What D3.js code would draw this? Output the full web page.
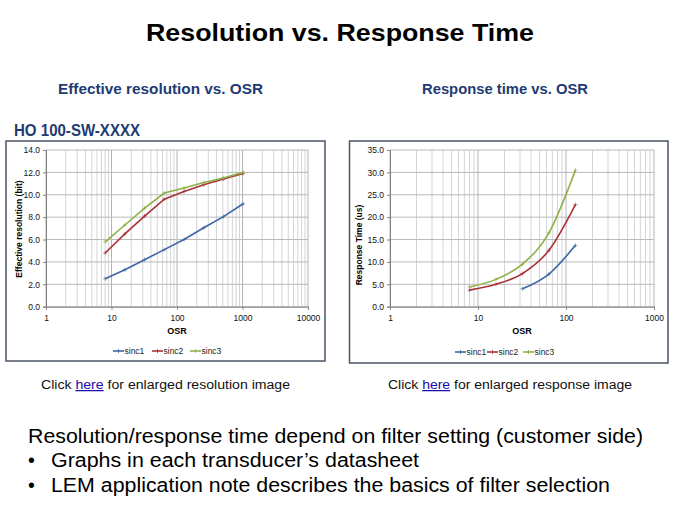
<!DOCTYPE html>
<html><head><meta charset="utf-8">
<script src="https://cdn.jsdelivr.net/npm/d3@7"></script>
<style>body{margin:0;background:#fff}svg{display:block}text{font-family:"Liberation Sans",Arial,sans-serif}</style>
</head><body><svg id="c" width="675" height="506"></svg>
<script>
// ---------- data ----------
const seriesNames = ["sinc1", "sinc2", "sinc3"];
const seriesColors = ["#3d66a6", "#a83236", "#8fb048"];
// Effective resolution vs OSR
const resOSR = [8, 16, 32, 64, 128, 256, 512, 1024];
const resSinc1 = [2.5, 3.3, 4.2, 5.1, 6.0, 7.05, 8.05, 9.2];
const resSinc2 = [4.8, 6.5, 8.1, 9.6, 10.3, 10.9, 11.4, 11.9];
const resSinc3 = [5.8, 7.3, 8.8, 10.15, 10.6, 11.1, 11.5, 12.0];
// Response time vs OSR
const rtOSR1 = [32, 64, 128];
const rtSinc1 = [4.0, 7.3, 13.7];
const rtOSR23 = [8, 16, 32, 64, 128];
const rtSinc2 = [3.7, 5.0, 7.4, 12.6, 22.8];
const rtSinc3 = [4.4, 6.1, 9.5, 16.5, 30.5];
const resYTicks = [0, 2, 4, 6, 8, 10, 12, 14];
const rtYTicks = [0, 5, 10, 15, 20, 25, 30, 35];
const resXTicks = [1, 10, 100, 1000, 10000];
const rtXTicks = [1, 10, 100, 1000];

const svg = d3.select("#c");
const navy = "#1f3b73";

function fit(sel, w) { sel.attr("textLength", w).attr("lengthAdjust", "spacingAndGlyphs"); return sel; }

// titles
fit(svg.append("text").attr("x", 146).attr("y", 41).attr("font-size", 24).attr("font-weight", "bold")
  .attr("fill", "#000").text("Resolution vs. Response Time"), 388);
fit(svg.append("text").attr("x", 58).attr("y", 94).attr("font-size", 15).attr("font-weight", "bold")
  .attr("fill", navy).text("Effective resolution vs. OSR"), 205);
fit(svg.append("text").attr("x", 422).attr("y", 94).attr("font-size", 15).attr("font-weight", "bold")
  .attr("fill", navy).text("Response time vs. OSR"), 166);
fit(svg.append("text").attr("x", 14).attr("y", 136).attr("font-size", 16).attr("font-weight", "bold")
  .attr("fill", navy).text("HO 100-SW-XXXX"), 126);

function chart(cfg) {
  const g = svg.append("g");
  g.append("rect").attr("x", cfg.box[0]).attr("y", cfg.box[1]).attr("width", cfg.box[2]).attr("height", cfg.box[3])
    .attr("fill", "#fff").attr("stroke", "#4b5366").attr("stroke-width", 1.5);
  const x = d3.scaleLog().domain(cfg.xDomain).range([cfg.plot[0], cfg.plot[1]]);
  const y = d3.scaleLinear().domain(cfg.yDomain).range([cfg.plot[3], cfg.plot[2]]);
  // vertical grid
  const vg = [];
  for (let d = cfg.xDomain[0]; d < cfg.xDomain[1]; d *= 10) for (let k = 1; k <= 9; k++) vg.push(d * k);
  vg.push(cfg.xDomain[1]);
  g.selectAll(null).data(vg).join("line")
    .attr("x1", d => x(d)).attr("x2", d => x(d)).attr("y1", y(cfg.yDomain[1])).attr("y2", y(cfg.yDomain[0]))
    .attr("stroke", d => cfg.xTicks.includes(d) ? "#b4b4b4" : "#d4d4d4").attr("stroke-width", 1);
  g.selectAll(null).data(cfg.yTicks).join("line")
    .attr("x1", x(cfg.xDomain[0])).attr("x2", x(cfg.xDomain[1])).attr("y1", d => y(d)).attr("y2", d => y(d))
    .attr("stroke", "#b8b8b8").attr("stroke-width", 1);
  // axes
  const ya = g.append("g").attr("transform", `translate(${x(cfg.xDomain[0])},0)`)
    .call(d3.axisLeft(y).tickValues(cfg.yTicks).tickFormat(d3.format(".1f")).tickSize(3).tickPadding(3));
  const xa = g.append("g").attr("transform", `translate(0,${y(cfg.yDomain[0])})`)
    .call(d3.axisBottom(x).tickValues(cfg.xTicks).tickFormat(d3.format("d")).tickSize(3).tickPadding(5));
  [ya, xa].forEach(a => {
    a.select(".domain").attr("stroke", "#808080");
    a.selectAll(".tick line").attr("stroke", "#808080");
    a.selectAll("text").attr("font-size", 8.5).attr("fill", "#111").attr("font-family", "Liberation Sans, Arial");
  });
  // axis titles
  g.append("text").attr("x", (cfg.plot[0] + cfg.plot[1]) / 2).attr("y", cfg.xTitleY).attr("text-anchor", "middle")
    .attr("font-size", 9).attr("font-weight", "bold").text("OSR");
  g.append("text").attr("transform", `translate(${cfg.yTitleX},${cfg.yTitleY}) rotate(-90)`).attr("text-anchor", "middle")
    .attr("font-size", 8.5).attr("font-weight", "bold").text(cfg.yTitle);
  // lines
  const line = d3.line().x(d => x(d[0])).y(d => y(d[1])).curve(cfg.curve);
  cfg.series.forEach((s, i) => {
    const pts = s.x.map((v, j) => [v, s.y[j]]);
    g.append("path").attr("d", line(pts)).attr("fill", "none").attr("stroke", seriesColors[i]).attr("stroke-width", 1.6);
    g.selectAll(null).data(pts).join("path")
      .attr("d", d => `M${x(d[0]) - 2},${y(d[1])}h4M${x(d[0])},${y(d[1]) - 2}v4`)
      .attr("stroke", seriesColors[i]).attr("stroke-width", 0.8).attr("opacity", 0.8);
  });
  // legend
  cfg.legendX.forEach((lx, i) => {
    g.append("line").attr("x1", lx).attr("x2", lx + 11).attr("y1", cfg.legendY).attr("y2", cfg.legendY)
      .attr("stroke", seriesColors[i]).attr("stroke-width", 1.6);
    g.append("line").attr("x1", lx + 5.5).attr("x2", lx + 5.5).attr("y1", cfg.legendY - 2).attr("y2", cfg.legendY + 2)
      .attr("stroke", seriesColors[i]).attr("stroke-width", 0.8);
    g.append("text").attr("x", lx + 11.5).attr("y", cfg.legendY + 3).attr("font-size", 8.5).attr("fill", "#222")
      .text(seriesNames[i]);
  });
}

chart({
  box: [6, 141, 319, 220], plot: [46, 308, 150, 306.7],
  xDomain: [1, 10000], yDomain: [0, 14], yTicks: resYTicks, xTicks: resXTicks,
  xTitleY: 334, yTitleX: 22, yTitleY: 229, yTitle: "Effective resolution (bit)",
  curve: d3.curveLinear,
  series: [{ x: resOSR, y: resSinc1 }, { x: resOSR, y: resSinc2 }, { x: resOSR, y: resSinc3 }],
  legendX: [113, 152, 190], legendY: 351
});
chart({
  box: [349.5, 141, 318.5, 222], plot: [390, 654, 150, 306.7],
  xDomain: [1, 1000], yDomain: [0, 35], yTicks: rtYTicks, xTicks: rtXTicks,
  xTitleY: 334, yTitleX: 362, yTitleY: 245, yTitle: "Response  Time (us)",
  curve: d3.curveMonotoneX,
  series: [{ x: rtOSR1, y: rtSinc1 }, { x: rtOSR23, y: rtSinc2 }, { x: rtOSR23, y: rtSinc3 }],
  legendX: [455, 487, 523], legendY: 352
});

// click lines
function clickLine(x0, w, rest) {
  const t = svg.append("text").attr("x", x0).attr("y", 389).attr("font-size", 12.5).attr("fill", "#111");
  t.append("tspan").text("Click ");
  t.append("tspan").attr("fill", "#1a0dab").attr("text-decoration", "underline").text("here");
  t.append("tspan").text(" " + rest);
  fit(t, w);
}
clickLine(41, 249, "for enlarged resolution image");
clickLine(388, 244, "for enlarged response image");

// body text
fit(svg.append("text").attr("x", 28).attr("y", 443).attr("font-size", 19.5).attr("fill", "#000")
  .text("Resolution/response time depend on filter setting (customer side)"), 615);
const bullets = ["Graphs in each transducer’s datasheet", "LEM application note describes the basics of filter selection"];
const bw = [368, 559];
bullets.forEach((b, i) => {
  const yy = 467 + i * 25;
  svg.append("text").attr("x", 28).attr("y", yy).attr("font-size", 19.5).text("•");
  fit(svg.append("text").attr("x", 51).attr("y", yy).attr("font-size", 19.5).text(b), bw[i]);
});
</script></body></html>
